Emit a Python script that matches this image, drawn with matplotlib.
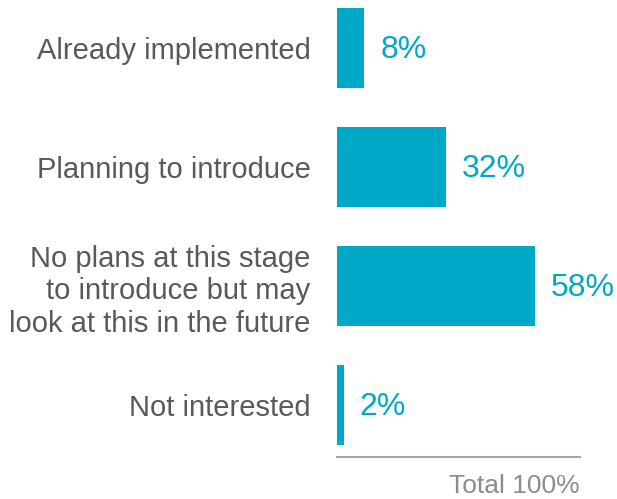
import matplotlib.pyplot as plt

plt.rcParams['font.family'] = ['Liberation Sans', 'DejaVu Sans']

categories = ['Already implemented',
              'Planning to introduce',
              'No plans at this stage\nto introduce but may\nlook at this in the future',
              'Not interested']
values = [8, 32, 58, 2]
total_label = 'Total 100%'

teal = '#00a8c8'
grey = '#595959'

fig = plt.figure(figsize=(6.17, 4.99), dpi=100)
W, H = 617, 499
ax = fig.add_axes([337 / W, 1 - 457 / H, (580 - 337) / W, 457 / H])

pos = list(range(len(categories)))
ax.barh(pos, values, height=0.67, color=teal)

# percentage labels just right of each bar
for p, v in zip(pos, values):
    ax.annotate(f'{v}%', (v, p), xytext=(11.5, -1.8), textcoords='offset points',
                ha='left', va='center', fontsize=23, color=teal)

ax.set_xlim(0, 243 / 3.41)
ax.set_ylim(3.437, -0.403)
ax.set_yticks(pos)
ax.set_yticklabels(categories, fontsize=21, color=grey, linespacing=1.22)
ax.tick_params(axis='y', length=0, pad=19)
ax.set_xticks([])

for s in ['top', 'right', 'left']:
    ax.spines[s].set_visible(False)
ax.spines['bottom'].set_color('#a6a6a6')
ax.spines['bottom'].set_linewidth(1.5)

fig.text(580 / W, 1 - 486 / H, total_label, ha='right', va='center',
         fontsize=19, color='#8c8c8c')

fig.savefig('out.png', dpi=100)
